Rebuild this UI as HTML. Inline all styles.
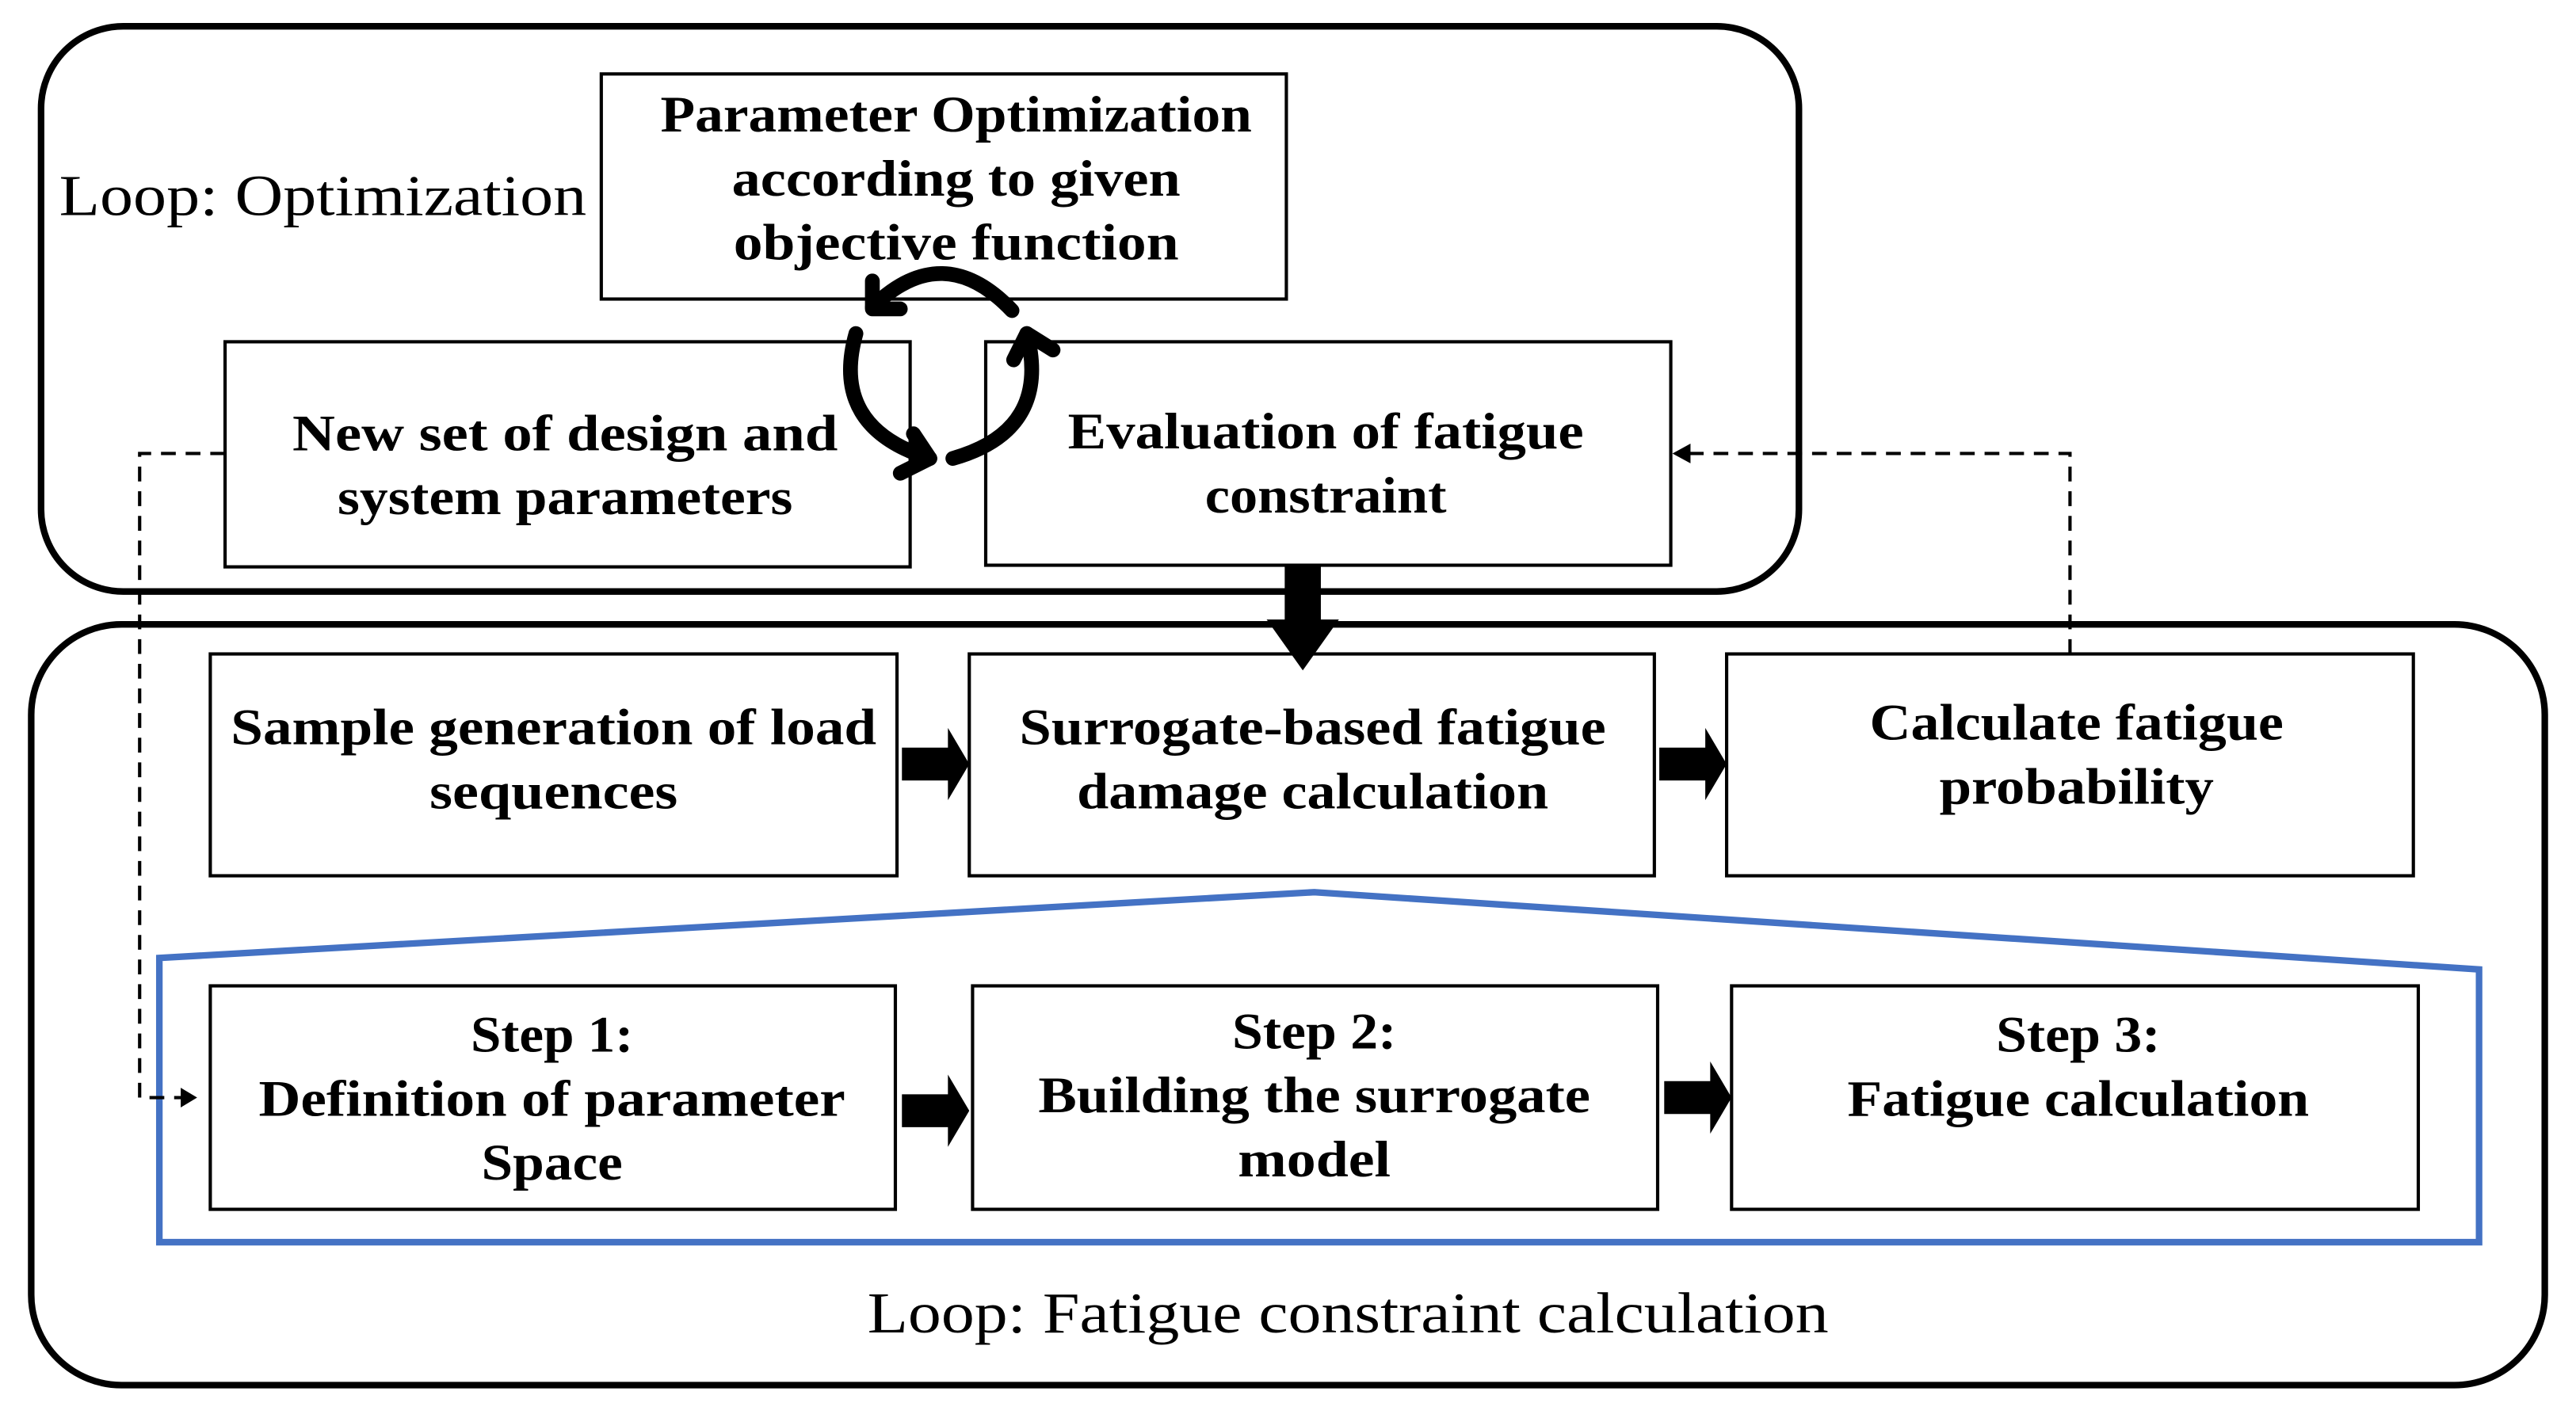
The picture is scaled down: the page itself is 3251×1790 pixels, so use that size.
<!DOCTYPE html>
<html><head><meta charset="utf-8"><style>
html,body{margin:0;padding:0;background:#fff;}
svg{display:block;}
.b{font-family:"Liberation Serif",serif;font-weight:bold;font-size:31px;text-anchor:middle;fill:#000;}
.l{font-family:"Liberation Serif",serif;font-size:35px;fill:#000;}
</style></head><body>
<svg width="3251" height="1790" viewBox="0 0 1568 863" preserveAspectRatio="none" xmlns="http://www.w3.org/2000/svg">
<rect x="0" y="0" width="1568" height="863" fill="#fff"/>
<rect x="25" y="16" width="1070" height="344" rx="50" fill="none" stroke="#000" stroke-width="4"/>
<rect x="19" y="380" width="1530" height="463" rx="55" fill="none" stroke="#000" stroke-width="4"/>
<polygon points="97,583 800,543 1509,590 1509,756 97,756" fill="none" stroke="#4472c4" stroke-width="4"/>
<g fill="#fff" stroke="#000" stroke-width="2">
<rect x="366" y="45" width="417" height="137"/>
<rect x="137" y="208" width="417" height="137"/>
<rect x="600" y="208" width="417" height="136"/>
<rect x="128" y="398" width="418" height="135"/>
<rect x="590" y="398" width="417" height="135"/>
<rect x="1051" y="398" width="418" height="135"/>
<rect x="128" y="600" width="417" height="136"/>
<rect x="592" y="600" width="417" height="136"/>
<rect x="1054" y="600" width="418" height="136"/>
</g>
<g fill="none" stroke="#000" stroke-width="2" stroke-dasharray="9,6">
<polyline points="137,276 85,276 85,668 112,668"/>
<polyline points="1260,398 1260,276 1027,276"/>
</g>
<polygon points="120,668 110,662 110,674" fill="#000"/>
<polygon points="1018,276 1029,270 1029,282" fill="#000"/>
<rect x="782" y="344" width="22" height="36" fill="#000"/>
<polygon points="771,377 815,377 793,408" fill="#000"/>
<g fill="#000">
<path d="M549,455 h28 v-12 l13,22 l-13,22 v-12 h-28z"/>
<path d="M1010,455 h28 v-12 l13,22 l-13,22 v-12 h-28z"/>
<path d="M549,666 h28 v-12 l13,22 l-13,22 v-12 h-28z"/>
<path d="M1013,658 h28 v-12 l13,22 l-13,22 v-12 h-28z"/>
</g>
<g fill="none" stroke="#000" stroke-width="9" stroke-linecap="round" stroke-linejoin="round">
<path d="M616,189 Q574,145 531,187"/>
<polyline points="531,171 531,188 548,188"/>
<path d="M521,203 Q505,260 566,279"/>
<polyline points="556,264 566,279 548,288"/>
<path d="M580,279 Q640,262 625,203"/>
<polyline points="617,219 625,203 641,213"/>
</g>
<text class="l" x="36" y="131" textLength="321" lengthAdjust="spacingAndGlyphs">Loop: Optimization</text>
<text class="l" x="528" y="811" textLength="585" lengthAdjust="spacingAndGlyphs">Loop: Fatigue constraint calculation</text>
<g class="b" lengthAdjust="spacingAndGlyphs">
<text x="582" y="80" textLength="360" lengthAdjust="spacingAndGlyphs">Parameter Optimization</text>
<text x="582" y="119" textLength="273" lengthAdjust="spacingAndGlyphs">according to given</text>
<text x="582" y="158" textLength="271" lengthAdjust="spacingAndGlyphs">objective function</text>
<text x="344" y="274" textLength="332" lengthAdjust="spacingAndGlyphs">New set of design and</text>
<text x="344" y="313" textLength="277" lengthAdjust="spacingAndGlyphs">system parameters</text>
<text x="807" y="273" textLength="314" lengthAdjust="spacingAndGlyphs">Evaluation of fatigue</text>
<text x="807" y="312" textLength="147" lengthAdjust="spacingAndGlyphs">constraint</text>
<text x="337" y="453" textLength="393" lengthAdjust="spacingAndGlyphs">Sample generation of load</text>
<text x="337" y="492" textLength="151" lengthAdjust="spacingAndGlyphs">sequences</text>
<text x="799" y="453" textLength="357" lengthAdjust="spacingAndGlyphs">Surrogate-based fatigue</text>
<text x="799" y="492" textLength="287" lengthAdjust="spacingAndGlyphs">damage calculation</text>
<text x="1264" y="450" textLength="252" lengthAdjust="spacingAndGlyphs">Calculate fatigue</text>
<text x="1264" y="489" textLength="167" lengthAdjust="spacingAndGlyphs">probability</text>
<text x="336" y="640" textLength="99" lengthAdjust="spacingAndGlyphs">Step 1:</text>
<text x="336" y="679" textLength="357" lengthAdjust="spacingAndGlyphs">Definition of parameter</text>
<text x="336" y="718" textLength="86" lengthAdjust="spacingAndGlyphs">Space</text>
<text x="800" y="638" textLength="100" lengthAdjust="spacingAndGlyphs">Step 2:</text>
<text x="800" y="677" textLength="336" lengthAdjust="spacingAndGlyphs">Building the surrogate</text>
<text x="800" y="716" textLength="93" lengthAdjust="spacingAndGlyphs">model</text>
<text x="1265" y="640" textLength="100" lengthAdjust="spacingAndGlyphs">Step 3:</text>
<text x="1265" y="679" textLength="281" lengthAdjust="spacingAndGlyphs">Fatigue calculation</text>
</g>
</svg>
</body></html>
